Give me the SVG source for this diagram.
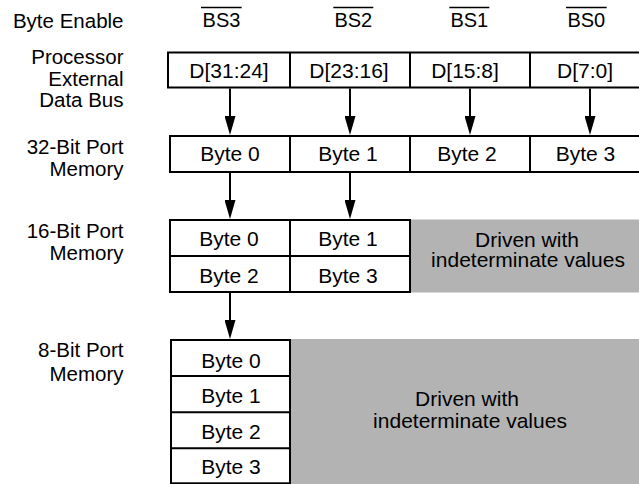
<svg xmlns="http://www.w3.org/2000/svg" width="639" height="484" viewBox="0 0 639 484">
<style>
.box{fill:#fff;stroke:#000;stroke-width:2}
.div{stroke:#000;stroke-width:2}
.gray{fill:#b3b3b3}
.t{font-family:"Liberation Sans",Arial,Helvetica,sans-serif;font-size:21px;fill:#000;text-anchor:middle}
.lbl{font-family:"Liberation Sans",Arial,Helvetica,sans-serif;font-size:20.5px;fill:#000;text-anchor:end}
.bs{font-family:"Liberation Sans",Arial,Helvetica,sans-serif;font-size:20px;fill:#000;text-anchor:middle}
.ovl{stroke:#000;stroke-width:1.5}
.conn line{stroke:#000;stroke-width:2;marker-end:url(#ah)}
</style>
<defs>
<marker id="ah" markerUnits="userSpaceOnUse" viewBox="0 0 19 11" markerWidth="19" markerHeight="11" refX="9" refY="5.5" orient="auto"><path d="M0,0 L19,5.5 L0,11 Z" fill="#000"/></marker>
</defs>
<rect width="639" height="484" fill="#fff"/>

<g id="row-labels">
<text class="lbl" x="123.5" y="28">Byte Enable</text>
<text class="lbl" x="123.5" y="64.3">Processor</text>
<text class="lbl" x="123.5" y="85.5">External</text>
<text class="lbl" x="123.5" y="106.5">Data Bus</text>
<text class="lbl" x="123.5" y="154.3">32-Bit Port</text>
<text class="lbl" x="123.5" y="176">Memory</text>
<text class="lbl" x="123.5" y="237.5">16-Bit Port</text>
<text class="lbl" x="123.5" y="260">Memory</text>
<text class="lbl" x="123.5" y="357">8-Bit Port</text>
<text class="lbl" x="123.5" y="381">Memory</text>
</g>

<g id="byte-enables">
<text class="bs" x="221.5" y="27.3">BS3</text><line class="ovl" x1="201" y1="7.5" x2="241.7" y2="7.5"/>
<text class="bs" x="353.3" y="27.3">BS2</text><line class="ovl" x1="333.3" y1="7.5" x2="373.3" y2="7.5"/>
<text class="bs" x="469.3" y="27.3">BS1</text><line class="ovl" x1="449.3" y1="7.5" x2="489.3" y2="7.5"/>
<text class="bs" x="586.3" y="27.3">BS0</text><line class="ovl" x1="566" y1="7.5" x2="606.7" y2="7.5"/>
</g>

<g id="data-bus">
<rect class="box" x="168" y="52.5" width="482" height="35"/>
<line class="div" x1="290" y1="52.5" x2="290" y2="87.5"/>
<line class="div" x1="410" y1="52.5" x2="410" y2="87.5"/>
<line class="div" x1="530" y1="52.5" x2="530" y2="87.5"/>
<text class="t" x="229" y="77.5">D[31:24]</text>
<text class="t" x="349" y="77.5">D[23:16]</text>
<text class="t" x="465" y="77.5">D[15:8]</text>
<text class="t" x="585" y="77.5">D[7:0]</text>
</g>

<g id="mem32">
<rect class="box" x="170" y="136" width="480" height="36"/>
<line class="div" x1="290" y1="136" x2="290" y2="172"/>
<line class="div" x1="410" y1="136" x2="410" y2="172"/>
<line class="div" x1="530" y1="136" x2="530" y2="172"/>
<text class="t" x="230" y="161">Byte 0</text>
<text class="t" x="348" y="161">Byte 1</text>
<text class="t" x="467" y="161">Byte 2</text>
<text class="t" x="585.5" y="161">Byte 3</text>
</g>

<g id="mem16-indeterminate">
<rect class="gray" x="410" y="219.5" width="240" height="73"/>
<text class="t" x="527" y="246.5">Driven with</text>
<text class="t" x="528" y="267.3">indeterminate values</text>
</g>

<g id="mem16">
<rect class="box" x="170" y="220" width="240" height="72"/>
<line class="div" x1="290" y1="220" x2="290" y2="292"/>
<line class="div" x1="170" y1="256" x2="410" y2="256"/>
<text class="t" x="229" y="246">Byte 0</text>
<text class="t" x="348" y="246">Byte 1</text>
<text class="t" x="229" y="282.5">Byte 2</text>
<text class="t" x="348" y="282.5">Byte 3</text>
</g>

<g id="mem8-indeterminate">
<rect class="gray" x="290" y="339" width="360" height="146"/>
<text class="t" x="467" y="406">Driven with</text>
<text class="t" x="470" y="427.7">indeterminate values</text>
</g>

<g id="mem8">
<rect class="box" x="171" y="340" width="119" height="143.3"/>
<line class="div" x1="171" y1="376" x2="290" y2="376"/>
<line class="div" x1="171" y1="412.3" x2="290" y2="412.3"/>
<line class="div" x1="171" y1="448.3" x2="290" y2="448.3"/>
<text class="t" x="231" y="367.7">Byte 0</text>
<text class="t" x="231" y="402.7">Byte 1</text>
<text class="t" x="231" y="438.7">Byte 2</text>
<text class="t" x="231" y="474.3">Byte 3</text>
</g>

<g id="connectors" class="conn">
<line x1="230" y1="88.5" x2="230" y2="125"/>
<line x1="350" y1="88.5" x2="350" y2="125"/>
<line x1="470" y1="88.5" x2="470" y2="125"/>
<line x1="590" y1="88.5" x2="590" y2="125"/>
<line x1="230" y1="173" x2="230" y2="209"/>
<line x1="350" y1="173" x2="350" y2="209"/>
<line x1="230" y1="293" x2="230" y2="329"/>
</g>
</svg>
